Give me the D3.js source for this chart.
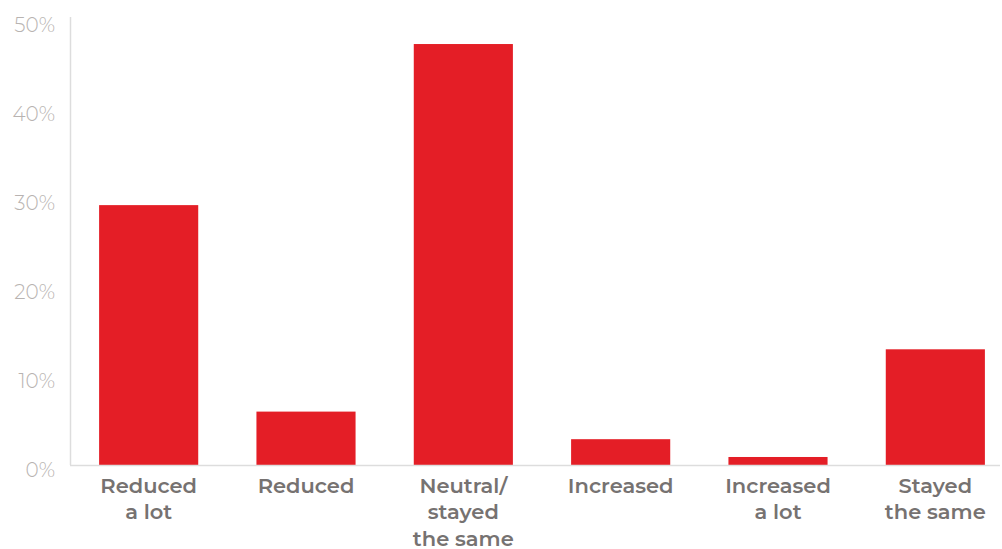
<!DOCTYPE html>
<html><head><meta charset="utf-8">
<script src="https://cdn.jsdelivr.net/npm/d3@7"></script>
<style>
body{margin:0;background:#fff;}
svg{display:block;}
</style></head>
<body>
<svg id="chart" width="1002" height="549"></svg>
<script>
const categories = [["Reduced","a lot"],["Reduced"],["Neutral/","stayed","the same"],["Increased"],["Increased","a lot"],["Stayed","the same"]];
const values = [29.2, 6.0, 47.3, 2.9, 0.9, 13.0];
const tickValues = [0, 10, 20, 30, 40, 50];

const svg = d3.select("#chart");
const x = d3.scaleBand().domain(d3.range(categories.length)).range([70, 1014]).paddingInner(0.37).paddingOuter(0.185);
const y = d3.scaleLinear().domain([0, 50]).range([465, 20]);

// y axis line
svg.append("line").attr("x1",70.5).attr("x2",70.5).attr("y1",17).attr("y2",465).attr("stroke","#dddddd").attr("stroke-width",1.5);

// bars
svg.selectAll("rect.bar").data(values).enter().append("rect")
  .attr("class","bar")
  .attr("x",(d,i)=>x(i)).attr("width",x.bandwidth())
  .attr("y",d=>y(d)).attr("height",d=>y(0)-y(d))
  .attr("fill","#e41e26");

// baseline
svg.append("line").attr("x1",70).attr("x2",1000).attr("y1",465.5).attr("y2",465.5).attr("stroke","#dddddd").attr("stroke-width",1.5);

// y tick labels
svg.selectAll("text.tick").data(tickValues).enter().append("text")
  .attr("x",55).attr("y",d=>y(d)+12)
  .attr("text-anchor","end")
  .attr("font-family","Montserrat, Lato, 'Open Sans', sans-serif")
  .attr("font-weight",300)
  .attr("font-size","20px")
  .attr("fill","#b8b3b1")
  .text(d=>d+"%");

// category labels
const g = svg.selectAll("text.cat").data(categories).enter().append("text")
  .attr("text-anchor","middle")
  .attr("font-family","Montserrat, Lato, 'Open Sans', sans-serif")
  .attr("font-weight",600)
  .attr("font-size","21px")
  .attr("fill","#767271");
g.each(function(lines,i){
  const t = d3.select(this);
  lines.forEach((ln,j)=>{
    t.append("tspan").attr("x",x(i)+x.bandwidth()/2).attr("y",492.5+j*26.5).text(ln);
  });
});
</script>
</body></html>
